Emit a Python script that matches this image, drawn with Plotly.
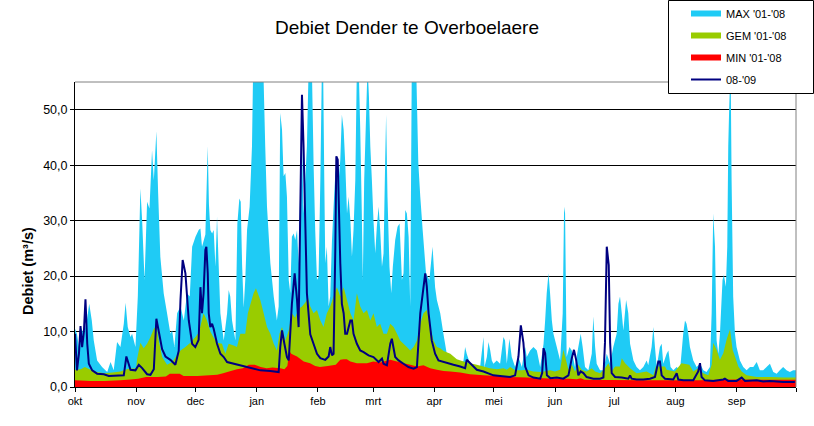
import plotly.graph_objects as go
import numpy as np

# ---------------- data ----------------
months = ["okt", "nov", "dec", "jan", "feb", "mrt", "apr", "mei", "jun", "jul", "aug", "sep"]
month_days = [31, 30, 31, 31, 28, 31, 30, 31, 30, 31, 31, 30]

# MAX '01-'08  (day of hydrological year, m3/s)
max_days = [0, 1, 2, 2.8, 4.5, 6, 7.2, 8.5, 9.5, 11.2, 13.7, 16.3, 18, 19.6, 21.3, 23, 24.7, 25.6, 26.7, 28.1,
            28.9, 30.6, 31.8, 33.1, 34, 35.2, 36.5, 37.7, 39, 39.9, 41.2, 42.1, 43.2, 44.9, 46.6, 48.3, 49.2, 50.3,
            51.7, 53.4, 55.1, 56.7, 58.1, 59.3, 61, 62.6, 63.5, 64.3, 66, 67.2, 67.8, 68.5, 69.4, 70.2, 71.1, 71.9,
            72.7, 73.6, 75.3, 77, 77.8, 78.6, 79.5, 81.2, 82.2, 83.2, 83.9, 84.6, 85.4, 86.2, 87.1, 88.4, 89.6,
            90.2, 95.3, 96.3, 97.2, 98.9, 100.6, 102.2, 103.1, 103.9, 104.8, 105.6, 106.5, 107.3, 108.2, 109,
            109.8, 110.7, 111.5, 112.4, 113.2, 114, 114.9, 115.7, 117.4, 118.3, 119.9, 120.8, 121.6, 122.5, 123.3,
            124.2, 125, 125.6, 126.2, 126.7, 127.5, 128.4, 129.2, 130.1, 130.9, 131.8, 132.6, 133.5, 134.3, 135.1,
            136, 136.8, 137.7, 138.5, 139.4, 140.2, 141, 141.9, 142.7, 143.6, 144.4, 145.2, 145.7, 146.4, 147.4,
            148.1, 148.8, 149.5, 150.3, 151.1, 152, 152.8, 153.7, 154.5, 155.4, 156.2, 157, 157.5, 158.2, 159.2,
            160.1, 160.9, 162.1, 163.3, 164.3, 165.5, 166.3, 167.2, 168, 168.9, 169.7, 170.5, 172.7, 173.8, 174.8,
            176, 177.7, 179.4, 181, 182.3, 183.2, 184.9, 186.5, 188.2, 189.9, 191.6, 193.3, 195, 196.7, 197.5,
            198.3, 200, 201.7, 203.4, 205.1, 206.8, 207.3, 208.5, 209.3, 210.2, 211, 211.8, 213.5, 215.2, 216.9,
            217.7, 218.6, 219.9, 221.1, 222.8, 224.5, 226.2, 227.9, 228.7, 230.4, 232.1, 233.8, 235.5, 237.2, 238,
            238.8, 239.7, 240.5, 241.4, 242.2, 243.9, 245.6, 246.9, 247.6, 248.1, 248.9, 250.3, 251.5, 253.1,
            254.8, 256, 257, 258.2, 259.9, 261.6, 262.4, 263.3, 264.1, 265.8, 267.5, 269.2, 270.9, 272.5, 274.2,
            275.1, 275.9, 276.8, 277.6, 279, 280.1, 281, 282.7, 284.3, 286, 287.7, 289.4, 290.2, 291.9, 292.8,
            293.6, 294.5, 296.1, 297, 297.8, 299.5, 300.4, 301.5, 302.9, 304.6, 306.3, 307.9, 308.8, 309.6, 310.5,
            311.3, 313, 314.7, 316.4, 318.1, 319.7, 321.4, 322.3, 323.1, 324, 324.8, 325.7, 326.5, 327.8, 328.5,
            329.5, 330.2, 330.7, 331.2, 331.9, 332.4, 333.2, 334.1, 334.9, 336.6, 338.3, 340, 341.7, 343.4, 345.1,
            346.7, 348.4, 350.1, 351.8, 353.5, 355.2, 356.8, 358.5, 360.2, 361.9, 363.6, 365]
max_vals = [10.5, 9.5, 7.2, 10.8, 9.6, 12, 15, 12, 8.4, 4.8, 3.6, 2.7, 4.5, 3.0, 8.1, 7.2, 11.4, 15.2, 10.8, 9.0,
            9.6, 7.2, 16.3, 35.8, 30, 19.3, 33.4, 32.2, 42.7, 37.3, 46.1, 34.9, 23.5, 16.9, 13.3, 9.6, 10.2, 7.2,
            13.3, 14.5, 12, 16.9, 16.3, 25.3, 27.1, 28.3, 28.6, 25.3, 27.5, 43.4, 33, 28.3, 27.7, 28.3, 21.7, 30.7,
            22.3, 13.3, 8.4, 13.3, 17.5, 16.3, 12, 8.4, 29.5, 34, 33.4, 22, 14.3, 19.3, 28.3, 32.5, 43.4,
            58, 58, 43.4, 32.5, 22.3, 16.3, 12, 14.5, 49.4, 46.4, 38, 38.6, 34.3, 19.3, 16.9,
            27.1, 27.7, 26.5, 28.3, 22.3, 35.5, 45, 31.3, 43.4, 58, 58, 40, 28.3, 19.3, 19.9,
            37.3, 58, 58, 37.3, 22.3, 25.3, 14.5, 16.3, 26.5, 32.5, 38.6, 39.8, 37.3, 41, 49.1,
            46.4, 40.4, 31.3, 34.3, 30.1, 23.5, 28.3, 37.3, 58, 58, 46.4, 31.3, 19.3, 37.3, 49.4,
            58, 52.4, 43.4, 37.3, 30.1, 24.1, 28.9, 32.5, 28.3, 21.7, 24.1, 40.4, 49.1, 34.3, 21.7,
            16.9, 21.7, 26.5, 28.9, 29.5, 19.3, 20.5, 31.9, 31.3, 27.1, 14.5, 58, 58, 40.4, 34.3,
            28.3, 20.5, 19.3, 25.3, 18, 15.7, 13.3, 9.6, 6, 4.8, 4.2, 3.6, 3.6, 4.8, 7.2,
            6, 4.2, 3.3, 3.0, 3.6, 9.0, 3.6, 5.4, 8.1, 6.6, 4.8, 4.2, 4.8, 4.2, 9.0,
            8.4, 4.2, 8.7, 5.4, 3.6, 5.4, 3.6, 7.2, 5.4, 6.6, 7.2, 6.6, 3.6, 7.8, 12,
            16.9, 20.5, 16.9, 12, 9.6, 7.2, 4.8, 13.3, 32.5, 31.3, 5.4, 7.2, 6.6, 3.6,
            7.2, 9.6, 7.2, 3.6, 3.0, 6.0, 12.7, 7.2, 4.2, 3.0, 3.0, 6.0, 4.2, 7.2, 9.6,
            15, 16.3, 13.3, 10.2, 15.7, 13.3, 7.8, 4.8, 3.6, 3.0, 3.6, 4.8, 3.9, 7.2, 10.8,
            7.2, 3.6, 7.2, 7.8, 4.2, 6.0, 6.6, 3.6, 3.0, 3.6, 3.0, 9.6, 12, 11.4, 9.6,
            7.2, 4.8, 3.6, 4.2, 3.0, 2.7, 3.6, 13.3, 31.3, 25.3, 8.4, 6.0, 9.6, 19.3, 20.2,
            18.1, 25.3, 43.4, 50.6, 58, 37.3, 16.3, 9.6, 7.2, 4.8, 3.6, 3.0, 3.6, 3.6, 4.5,
            3.0, 3.0, 3.6, 4.2, 2.7, 2.4, 3.0, 3.6, 3.0, 2.7, 3.0, 3.0]

# GEM '01-'08
gem_days = [0, 3, 5, 7.8, 11, 15, 19, 23, 27, 31, 31.4, 33.1, 34.8, 36.5, 38.2, 39.9, 41.2, 42.4, 44.1, 46.6,
            49.2, 51.3, 53.4, 55.9, 58.4, 61, 62.6, 63.5, 65.1, 66.8, 68.5, 70, 72, 74.4, 76.1, 77.8, 80.3, 82,
            83.7, 86.2, 87.5, 90.4, 91.6, 93.8, 95.5, 97.2, 98.9, 100.6, 102.2, 103.5, 104.8, 106.5, 108.2, 109.8,
            111.5, 113, 114.9, 116.5, 118, 119.1, 120.8, 122.5, 124.2, 125.8, 127.5, 129.2, 130.9, 132.6, 134.3,
            136, 137.7, 139.4, 141, 142.7, 144.4, 146.1, 147.8, 149.5, 151.1, 152.8, 154.5, 156.2, 157.9, 159.6,
            161.3, 163, 164.6, 166.3, 168, 169.7, 171.4, 173.1, 174.8, 176.4, 178.1, 179.8, 181.5, 183.2, 184.9,
            186.6, 190, 193.3, 196.7, 200, 203.4, 206.8, 210, 213.5, 216.9, 218.6, 220.3, 222.8, 226, 228.7, 232,
            236, 240.5, 243, 245.6, 247.2, 248.1, 249.8, 251.5, 253.1, 254.8, 256.5, 259, 261.6, 263.3, 265.8,
            268.3, 270, 271.7, 273.4, 275.9, 276.8, 278.5, 281, 284.3, 289.4, 292.8, 294, 298.7, 299.5, 303.7,
            307, 311, 313, 315.5, 318, 320.6, 322.3, 323.1, 324.8, 326.5, 328.2, 329.9, 331.6, 332.9, 334.1,
            335.8, 337.5, 340, 345.1, 351.8, 358.5, 365]
gem_vals = [3.1, 3.2, 3.6, 3.1, 2.7, 2.5, 2.6, 2.8, 3.3, 3.4, 5.0, 8.0, 7.0, 7.8, 9.0, 10.5, 11.0, 8.4, 5.4, 4.0,
            4.5, 5.6, 6.6, 7.2, 8.0, 9.0, 9.8, 11, 13.3, 12, 10, 9, 8, 7.8, 6, 7.8, 7.5, 7.2,
            9.6, 9.6, 13.3, 16.9, 17.8, 15.7, 13.3, 10.8, 9.6, 7.8, 6.6, 9.6, 10.8, 8.4, 10.2, 13.3,
            12.5, 14, 14.5, 15.2, 16.0, 14.5, 13.3, 13.9, 12, 10.8, 13.3, 14.5, 16.3, 18, 16.3,
            18, 15.7, 13.3, 12, 16.9, 14.5, 13.3, 13.9, 12, 13.3, 10.8, 11.4, 9.6, 9.6, 11.4,
            10.8, 9.6, 8.4, 7.8, 7.2, 6.6, 7.2, 8.4, 11.4, 13.3, 13.9, 10.8, 8.4, 7.2, 7.0,
            6.5, 6.0, 5.0, 4.6, 4.3, 4.0, 3.7, 3.4, 3.2, 3.4, 3.1, 3.6, 3.0, 3.0, 3.1, 2.8,
            2.7, 3.0, 2.8, 3.1, 6.7, 5.5, 3.1, 4.0, 2.8, 4.0, 3.1, 2.8, 3.4, 2.8, 2.5,
            3.4, 4.3, 2.8, 3.7, 3.7, 5.2, 4.3, 3.4, 2.5, 2.8, 2.1, 3.7, 3.7, 3.1, 2.8,
            4.3, 4.0, 2.8, 3.4, 2.5, 2.1, 4.0, 8.0, 6.7, 4.9, 6.1, 8.6, 10.4, 6.7, 5.5,
            3.7, 2.8, 2.1, 1.8, 1.8, 1.7, 1.7]

# MIN '01-'08
min_days = [0, 8, 15, 23, 28, 32, 36, 42, 46, 48, 53, 55, 62, 68, 72, 75, 78, 82, 85, 88, 91, 94, 97, 100, 104,
            106, 107.5, 108.5, 109.5, 110.5, 112.4, 115.8, 119, 121.6, 124, 128, 132, 134.3, 136, 137.6, 139.4,
            142.7, 147.8, 151, 154.5, 159.6, 163, 166.3, 169.7, 173.1, 176.4, 179.8, 183.2, 186.6, 190, 195, 200,
            206.8, 213.5, 220.3, 228.7, 237.2, 243, 250, 254, 256, 258, 270, 290, 316, 325, 335, 350, 365]
min_vals = [1.2, 1.1, 1.1, 1.2, 1.35, 1.5, 1.8, 1.8, 1.9, 2.4, 2.4, 2.0, 2.0, 2.1, 2.2, 2.5, 2.8, 3.2, 3.4, 4.0,
            4.0, 3.6, 3.4, 3.5, 3.4, 3.2, 3.8, 6.5, 6.0, 5.8, 5.5, 4.6, 4.3, 3.8, 3.6, 3.8, 4.0, 4.9, 5.0, 5.0,
            4.6, 4.3, 4.3, 4.6, 4.4, 4.9, 4.6, 4.3, 4.0, 3.7, 3.9, 3.4, 3.1, 2.9, 2.8, 2.6, 2.3,
            2.1, 2.0, 1.8, 1.7, 1.6, 1.5, 1.5, 1.4, 1.6, 1.3, 1.25, 1.2, 1.2, 1.3, 1.35, 1.3, 1.3]

# 08-'09
cur_days = [0, 1, 2, 2.8, 3.6, 4.5, 5.3, 6.2, 7.0, 8.7, 11.2, 14.6, 17.1, 21.3, 24.7, 26.0, 27.2, 28.1, 30.6, 32.3,
            34.0, 36.5, 38.2, 39.9, 41.2, 42.4, 44.1, 45.8, 48.3, 50.8, 52.5, 53.4, 54.5, 55.9, 57.6, 59.3, 60.9,
            62.6, 63.5, 64.3, 65.1, 66.0, 66.5, 67.2, 67.7, 68.5, 69.4, 70.2, 71.9, 73.6, 75.3, 77.0, 80.3, 83.7,
            87.1, 90.5, 93.8, 98.9, 103.1, 103.9, 104.8, 106.0, 107.3, 108.2, 109.8, 111.2, 112.4, 113.2, 114.1,
            114.9, 115.7, 116.6, 117.4, 119.1, 120.8, 122.5, 124.2, 126.7, 128.4, 129.2, 130.1, 130.9, 131.8,
            132.3, 133.0, 133.5, 134.3, 135.1, 136.0, 136.8, 137.7, 139.4, 140.2, 141.0, 142.7, 144.4, 146.1,
            148.6, 151.1, 153.7, 155.4, 156.2, 157.9, 159.6, 160.4, 162.1, 163.8, 166.3, 168.8, 171.4, 173.1,
            174.8, 176.4, 177.3, 178.1, 179.0, 180.6, 182.3, 184.0, 185.7, 188.2, 191.6, 195.0, 197.5, 198.3,
            200.0, 201.7, 203.4, 206.8, 209.3, 211.8, 215.2, 220.3, 222.8, 224.5, 225.7, 227.0, 227.9, 229.6,
            232.1, 235.5, 236.5, 237.2, 238.0, 238.9, 240.6, 243.9, 247.2, 249.8, 251.5, 252.6, 253.7, 254.8,
            256.0, 257.4, 259.0, 262.4, 265.8, 267.5, 268.3, 269.2, 270.2, 270.9, 271.7, 273.4, 276.8, 280.1,
            281.0, 281.8, 284.3, 287.7, 291.1, 293.6, 295.3, 296.1, 297.0, 298.7, 302.9, 304.6, 305.4, 308.0,
            313.0, 315.5, 316.4, 317.2, 318.9, 323.1, 328.2, 329.0, 330.7, 334.9, 337.5, 339.2, 345.1, 348.4,
            351.8, 355.2, 358.5, 364.4]
cur_vals = [9.6, 3.0, 6.0, 11.0, 7.2, 10, 15.8, 7.8, 4.2, 3.0, 2.4, 2.3, 2.0, 2.0, 2.1, 5.5, 4.0, 3.1, 3.0, 4.0,
            3.4, 2.3, 2.2, 3.2, 12.3, 9.8, 6.8, 5.5, 4.9, 4.0, 6.5, 15.7, 22.9, 20.5, 12.0, 7.8, 7.2,
            8.5, 18.0, 13.3, 16.9, 24.7, 25.3, 20.5, 13.3, 10.8, 11.4, 10.5, 7.8, 6.0, 5.4, 4.5, 4.2, 3.9,
            3.6, 3.3, 3.0, 2.9, 2.7, 7.2, 10.2, 7.8, 5.4, 4.8, 15.0, 20.5, 15.7, 10.8, 37.3,
            52.7, 43.4, 26.5, 16.9, 9.5, 7.8, 6.0, 5.2, 4.9, 5.5, 7.2, 5.7, 6.0, 25.3,
            41.6, 41.0, 32.5, 22.3, 15.0, 13.3, 9.6, 9.6, 12.0, 12.0, 9.6, 7.8, 6.6, 6.3,
            5.7, 5.4, 4.5, 5.1, 4.2, 3.9, 7.8, 8.7, 5.4, 4.8, 4.2, 3.6, 3.3, 3.6,
            13.3, 18.1, 20.5, 18.1, 13.3, 8.4, 6.0, 4.8, 4.6, 4.3, 4.0, 3.7, 3.4, 4.9,
            4.3, 3.7, 3.1, 2.8, 2.5, 2.1, 2.0, 1.8, 2.1, 5.5, 11.1, 8.0, 3.7, 2.1,
            1.7, 1.5, 2.5, 7.0, 6.1, 2.1, 1.6, 1.7, 1.5, 2.1, 5.2, 6.7, 4.9, 2.1,
            2.8, 2.5, 1.8, 1.5, 1.5, 1.7, 8.0, 25.3, 22, 8.0, 2.5, 1.8, 1.7, 1.5,
            2.1, 1.5, 1.35, 1.35, 1.5, 1.8, 4.6, 4.6, 2.1, 1.5, 1.35, 2.5, 1.35, 1.2,
            1.2, 2.8, 4.3, 1.8, 1.2, 1.1, 1.35, 1.5, 1.1, 1.1, 1.7, 1.1, 1.2, 1.0,
            1.1, 1.0, 0.9, 0.9]

title_text = "Debiet Dender te Overboelaere"
y_title = "Debiet (m³/s)"
series_names = ["MAX '01-'08", "GEM '01-'08", "MIN '01-'08", "08-'09"]

# ---------------- figure ----------------
FONT = "Arial, Liberation Sans, sans-serif"
month_starts = list(np.concatenate([[0], np.cumsum(month_days)]))
tick_text = months + [""]

fig = go.Figure()
fig.add_trace(go.Scatter(x=max_days, y=max_vals, name=series_names[0], mode="none",
                         fill="tozeroy", fillcolor="#1FCBF5", legendgroup="a"))
fig.add_trace(go.Scatter(x=gem_days, y=gem_vals, name=series_names[1], mode="none",
                         fill="tozeroy", fillcolor="#99CC00", legendgroup="b"))
fig.add_trace(go.Scatter(x=min_days, y=min_vals, name=series_names[2], mode="none",
                         fill="tozeroy", fillcolor="#FF0000", legendgroup="c"))
fig.add_trace(go.Scatter(x=cur_days, y=cur_vals, name=series_names[3], mode="lines",
                         line=dict(color="#000080", width=2), legendgroup="d"))

# plot area l=75 r=796 t=82 b=387
L, R, T, B = 75, 796, 82, 387
W, H = R - L, B - T
def px(x):
    return (x - L) / W
def py(y):
    return (B - y) / H

fig.update_layout(
    width=814, height=426,
    margin=dict(l=L, r=814 - R, t=T, b=426 - B, autoexpand=False),
    paper_bgcolor="white", plot_bgcolor="white",
    separators=",.",
    font=dict(family=FONT, size=11, color="black"),
    title=dict(text=title_text, x=0.5, xref="container", xanchor="center",
               y=1 - 27 / 426, yref="container", yanchor="middle",
               font=dict(family=FONT, size=19, color="black")),
    showlegend=True,
    legend=dict(xref="paper", yref="paper", x=px(686), y=py(-1),
                xanchor="left", yanchor="top", bgcolor="rgba(0,0,0,0)", borderwidth=0,
                font=dict(family=FONT, size=11, color="black"), tracegroupgap=3,
                itemwidth=30),
    shapes=[
        dict(type="line", xref="paper", yref="paper", x0=0, x1=1, y0=1, y1=1,
             line=dict(color="#808080", width=1), layer="above"),
        dict(type="line", xref="paper", yref="paper", x0=1, x1=1, y0=0, y1=1,
             line=dict(color="#808080", width=1), layer="above"),
        dict(type="rect", xref="paper", yref="paper", x0=px(668.5), x1=px(813.5),
             y0=py(93.5), y1=py(0.5), fillcolor="white", line=dict(color="black", width=1),
             layer="above"),
    ],
    annotations=[
        dict(text="<b>" + y_title + "</b>", xref="paper", yref="paper", x=px(28), y=py(271),
             xanchor="center", yanchor="middle", textangle=-90, showarrow=False,
             font=dict(family=FONT, size=14.5, color="black")),
    ],
)
fig.update_xaxes(range=[0, 365], tickmode="array", tickvals=month_starts, ticktext=tick_text,
                 ticks="outside", ticklen=4, tickcolor="black", showgrid=False, zeroline=False,
                 showline=True, linecolor="black", linewidth=1,
                 tickfont=dict(family=FONT, size=11, color="black"))
fig.update_yaxes(range=[0, 55], tick0=0, dtick=10, tickformat=".1f", ticks="outside", ticklen=4,
                 tickcolor="black", showgrid=True, gridcolor="black", gridwidth=1, zeroline=False,
                 showline=True, linecolor="black", linewidth=1,
                 tickfont=dict(family=FONT, size=12.5, color="black"))

fig.write_html("out.html")
